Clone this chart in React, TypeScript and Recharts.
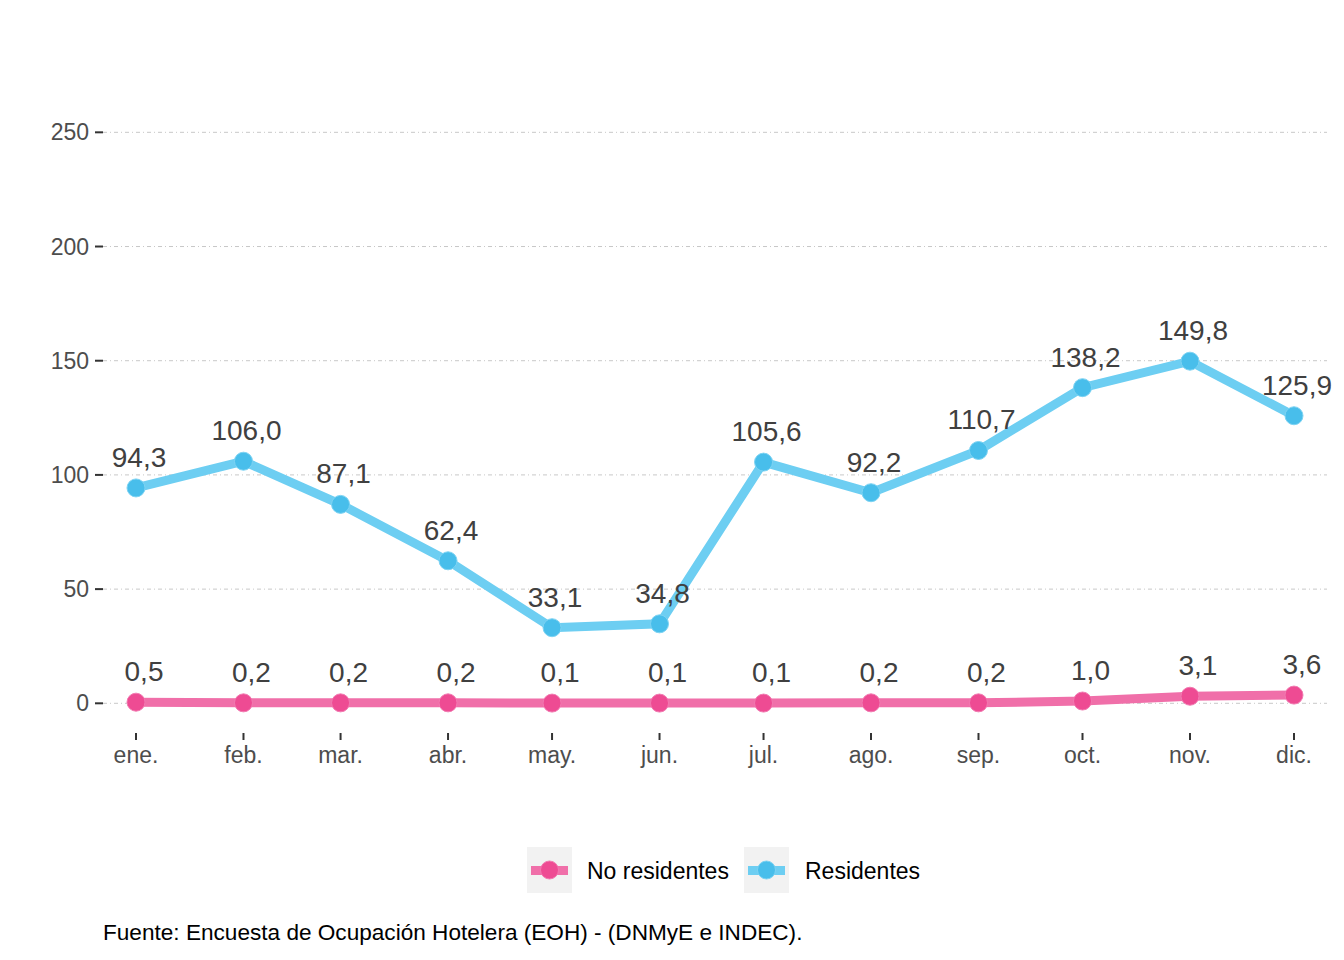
import React from 'react';
import { LineChart, Line, XAxis, YAxis, CartesianGrid } from 'recharts';

const dates = ['2023-01-01', '2023-02-01', '2023-03-01', '2023-04-01', '2023-05-01', '2023-06-01', '2023-07-01', '2023-08-01', '2023-09-01', '2023-10-01', '2023-11-01', '2023-12-01'];
const months = ['ene.', 'feb.', 'mar.', 'abr.', 'may.', 'jun.', 'jul.', 'ago.', 'sep.', 'oct.', 'nov.', 'dic.'];
const residentes = [94.3, 106.0, 87.1, 62.4, 33.1, 34.8, 105.6, 92.2, 110.7, 138.2, 149.8, 125.9];
const noResidentes = [0.5, 0.2, 0.2, 0.2, 0.1, 0.1, 0.1, 0.2, 0.2, 1.0, 3.1, 3.6];
const yTicks = [0, 50, 100, 150, 200, 250];
const seriesNames = ['No residentes', 'Residentes'];
const sourceText = 'Fuente: Encuesta de Ocupación Hotelera (EOH) - (DNMyE e INDEC).';

const DAY = 86400000;
const dayOf = (d: string) => Math.round((Date.parse(d) - Date.parse(dates[0])) / DAY);
const xValues = dates.map(dayOf);
const data = months.map((m, i) => ({ x: xValues[i], month: m, res: residentes[i], nores: noResidentes[i] }));
const labelByX: Record<number, string> = {};
xValues.forEach((v, i) => { labelByX[v] = months[i]; });

const FONT = '"Liberation Sans", Arial, sans-serif';
const PINK_LINE = '#F06FA9';
const PINK_DOT = '#EE4B93';
const PINK_DOT_EDGE = '#F27AB1';
const BLUE_LINE = '#6DCEF2';
const BLUE_DOT = '#48BEEB';
const BLUE_DOT_EDGE = '#7DD3F3';

const fmt = (v: number) => v.toFixed(1).replace('.', ',');

const makeLabel = (dx: number) => (props: any) => {
  const { x, y, value, index } = props;
  return (
    <text
      key={`lbl-${index}`}
      x={x + dx}
      y={y - 21}
      textAnchor="middle"
      fontSize={28}
      fontFamily={FONT}
      fill="#404040"
    >
      {fmt(Number(value))}
    </text>
  );
};

const LegendKey = ({ line, dot, edge }: { line: string; dot: string; edge: string }) => (
  <svg width={45} height={46} style={{ display: 'block' }}>
    <rect x={0} y={0} width={45} height={46} fill="#F2F2F2" />
    <rect x={4} y={19} width={37} height={9} fill={line} />
    <circle cx={22.5} cy={23} r={9} fill={dot} stroke={edge} strokeWidth={1} />
  </svg>
);

export default function App() {
  const lastX = xValues[xValues.length - 1];
  const padDays = 9.52;
  return (
    <div style={{ position: 'absolute', left: 0, top: 0, width: 1344, height: 960, background: '#fff', fontFamily: FONT }}>
      <LineChart
        width={1344}
        height={960}
        data={data}
        margin={{ top: 63.8, right: 17, bottom: 187, left: 0 }}
      >
        <CartesianGrid
          vertical={false}
          stroke="#C8C8C8"
          strokeDasharray="4 3 1 3"
          syncWithTicks
        />
        <XAxis
          dataKey="x"
          type="number"
          domain={[-padDays, lastX + padDays]}
          ticks={xValues}
          tickFormatter={(v: number) => labelByX[v] ?? ''}
          interval={0}
          height={40}
          axisLine={false}
          tickSize={7}
          tickMargin={7}
          tickLine={{ stroke: '#333333', strokeWidth: 2 }}
          tick={{ fill: '#4D4D4D', fontSize: 23, fontFamily: FONT }}
        />
        <YAxis
          type="number"
          width={103}
          domain={[-13, 280]}
          ticks={yTicks}
          axisLine={false}
          tickSize={8}
          tickMargin={6}
          tickLine={{ stroke: '#333333', strokeWidth: 2 }}
          tick={{ fill: '#4D4D4D', fontSize: 23, fontFamily: FONT }}
        />
        <Line
          dataKey="nores"
          name={seriesNames[0]}
          stroke={PINK_LINE}
          strokeWidth={9}
          dot={{ r: 9, fill: PINK_DOT, stroke: PINK_DOT_EDGE, strokeWidth: 1 }}
          activeDot={false}
          isAnimationActive={false}
          label={makeLabel(8)}
        />
        <Line
          dataKey="res"
          name={seriesNames[1]}
          stroke={BLUE_LINE}
          strokeWidth={9}
          dot={{ r: 9, fill: BLUE_DOT, stroke: BLUE_DOT_EDGE, strokeWidth: 1 }}
          activeDot={false}
          isAnimationActive={false}
          label={makeLabel(3)}
        />
      </LineChart>

      <div style={{ position: 'absolute', left: 527, top: 847 }}>
        <LegendKey line={PINK_LINE} dot={PINK_DOT} edge={PINK_DOT_EDGE} />
      </div>
      <div style={{ position: 'absolute', left: 587, top: 857, fontSize: 23, lineHeight: '28px', color: '#000', whiteSpace: 'nowrap' }}>
        {seriesNames[0]}
      </div>
      <div style={{ position: 'absolute', left: 744, top: 847 }}>
        <LegendKey line={BLUE_LINE} dot={BLUE_DOT} edge={BLUE_DOT_EDGE} />
      </div>
      <div style={{ position: 'absolute', left: 805, top: 857, fontSize: 23, lineHeight: '28px', color: '#000', whiteSpace: 'nowrap' }}>
        {seriesNames[1]}
      </div>
      <div style={{ position: 'absolute', left: 103, top: 919, fontSize: 22.6, lineHeight: '28px', color: '#000', whiteSpace: 'nowrap' }}>
        {sourceText}
      </div>
    </div>
  );
}
